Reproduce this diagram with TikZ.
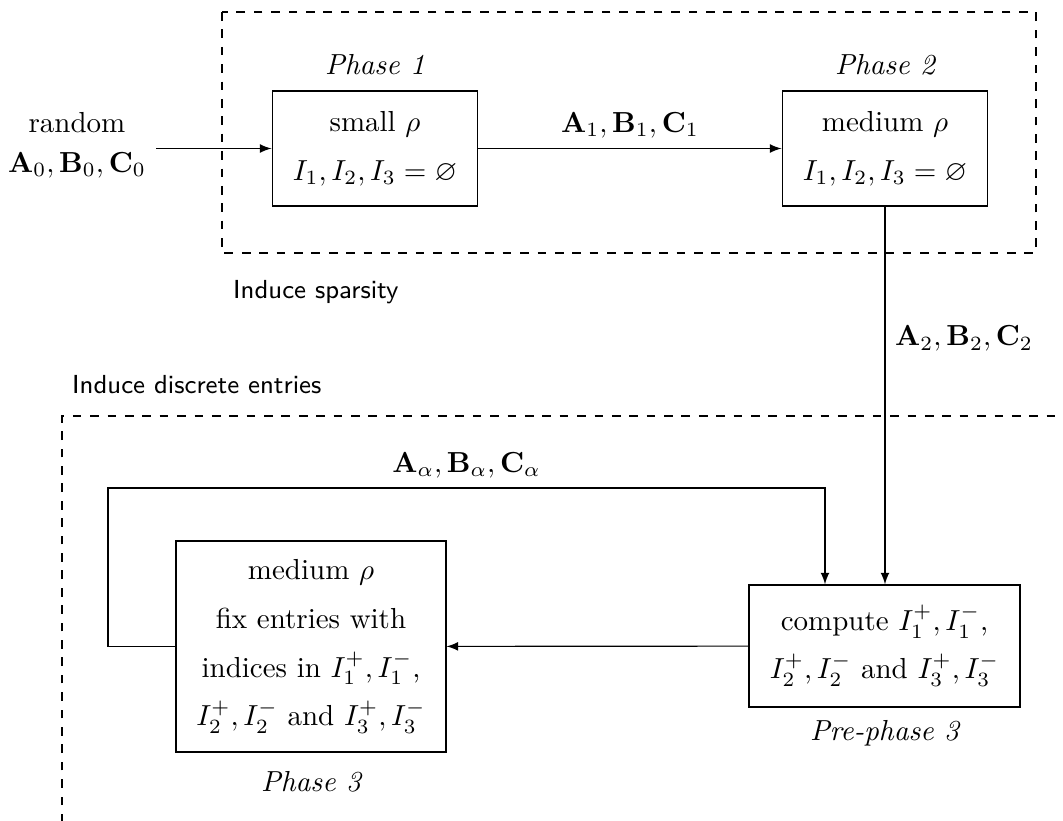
\documentclass[tikz,border=0pt]{standalone}
\usepackage{amsmath,amssymb}
\usetikzlibrary{arrows}

\tikzset{
  stage/.style={draw, align=center, inner sep=0pt,
                font=\linespread{1.4}\selectfont},
  source/.style={align=center, font=\linespread{1.15}\selectfont},
  caption/.style={font=\itshape},
  region/.style={draw, dashed},
  regionlabel/.style={font=\sffamily\small, anchor=west},
  flow/.style={-latex},
  flowlabel/.style={font=\normalsize},
}

\begin{document}
\begin{tikzpicture}[x=0.345pt, y=-0.345pt]
  \useasboundingbox (0,0) rectangle (1063,821);

  % --- stages ---
  \node[stage, minimum width=71pt, minimum height=39.7pt] (p1) at (375,148.5)
    {small $\rho$\\ $I_1, I_2, I_3 = \varnothing$};
  \node[stage, minimum width=71pt, minimum height=39.7pt] (p2) at (885,148.5)
    {medium $\rho$\\ $I_1, I_2, I_3 = \varnothing$};
  \node[stage, minimum width=93.5pt, minimum height=42.1pt] (pre) at (884.5,646)
    {compute $I_1^+, I_1^-$,\\ $I_2^+, I_2^-$ and $I_3^+, I_3^-$};
  \node[stage, minimum width=93.1pt, minimum height=72.8pt] (p3) at (311,646.5)
    {medium $\rho$\\ fix entries with\\ indices in $I_1^+, I_1^-$,\\
     $I_2^+, I_2^-$ and $I_3^+, I_3^-$};

  % --- stage captions ---
  \node[caption] (c1) at (375,65) {Phase 1};
  \node[caption] (c2) at (885,65) {Phase 2};
  \node[caption] (c0) at (884.5,733) {Pre-phase 3};
  \node[caption] (c3) at (311,782) {Phase 3};

  % --- initial factors ---
  \node[source] (src) at (77,145)
    {random\\ $\mathbf{A}_0, \mathbf{B}_0, \mathbf{C}_0$};

  % --- connectors ---
  \draw[flow] (src.east |- p1) -- (p1);
  \draw[flow] (p1) -- node[above, flowlabel]
    {$\mathbf{A}_1, \mathbf{B}_1, \mathbf{C}_1$} (p2);
  \draw[flow] (p2) -- node[right, pos=0.35, flowlabel]
    {$\mathbf{A}_2, \mathbf{B}_2, \mathbf{C}_2$} (p2 |- pre.north);
  \draw[flow] (pre) -- (p3);

  \coordinate (loopTL) at (108,488);
  \coordinate (loopTR) at (825,488);
  \draw[flow] (p3.west) -| (loopTL) -- node[above, flowlabel]
    {$\mathbf{A}_\alpha, \mathbf{B}_\alpha, \mathbf{C}_\alpha$} (loopTR)
    -- (loopTR |- pre.north);

  % --- regions ---
  \draw[region] (222,12) rectangle (1036,253);
  \node[regionlabel] (sparse) at (223,292) {Induce sparsity};

  \draw[region] (62,840) -- (62,416) -- (1080,416);
  \node[regionlabel] (discrete) at (62,385) {Induce discrete entries};
\end{tikzpicture}
\end{document}
